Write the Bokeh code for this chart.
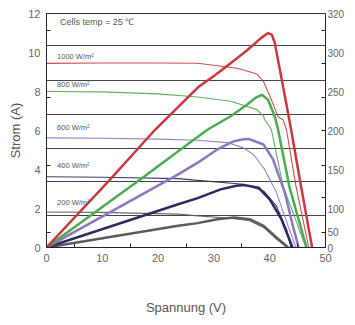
from bokeh.plotting import figure
from bokeh.models import Range1d, LinearAxis, FixedTicker, Grid
from bokeh.core.properties import value
from bokeh.embed import file_html
from bokeh.resources import INLINE

# ---------------- data ----------------
# I-V curves (current, A)
v_iv_1000 = [0, 10, 20, 27.1, 34.2, 37.7, 38.9, 40.0, 41.5, 42.4, 43.0, 44.7, 47.0]
i_iv_1000 = [9.44, 9.46, 9.46, 9.45, 9.19, 8.9, 8.5, 7.8, 6.7, 6.55, 6.05, 3.16, 0]

v_iv_800 = [0, 10, 20, 27.1, 33.0, 37.7, 38.9, 39.1, 40.3, 42.4, 46.5]
i_iv_800 = [8.0, 7.98, 7.88, 7.72, 7.5, 7.07, 6.73, 6.55, 6.05, 3.15, 0]

v_iv_600 = [0, 10, 20, 27.1, 32.4, 35.3, 37.1, 39.1, 41.2, 43.5, 44.7]
i_iv_600 = [5.62, 5.6, 5.56, 5.5, 5.38, 5.11, 4.77, 4.0, 2.83, 0.94, 0]

v_iv_400 = [0, 10, 23.6, 27.1, 35.3, 38.9, 41.2, 43.0, 43.8]
i_iv_400 = [3.63, 3.6, 3.53, 3.44, 3.24, 2.9, 2.13, 0.94, 0]

v_iv_200 = [0, 10, 23.6, 27.1, 33.0, 36.4, 38.9, 41.2, 43.1]
i_iv_200 = [1.82, 1.8, 1.71, 1.62, 1.5, 1.37, 1.03, 0.43, 0]

# P-V curves (power, on the plotted scale of the chart)
v_pv_1000 = [0, 11.3, 19.5, 27.1, 30.0, 33.0, 35.9, 38.5, 39.7, 40.4, 40.9, 42.4, 43.8, 45.6, 47.6]
p_pv_1000 = [0, 3.45, 6.05, 8.2, 8.8, 9.45, 10.1, 10.75, 11.0, 10.9, 10.5, 8.25, 6.1, 3.16, 0]

v_pv_800 = [0, 17.1, 23.6, 28.9, 33.0, 35.9, 37.6, 38.6, 39.7, 40.9, 41.5, 43.5, 46.6]
p_pv_800 = [0, 3.55, 4.94, 6.05, 6.73, 7.32, 7.7, 7.83, 7.58, 6.73, 6.05, 3.15, 0]

v_pv_600 = [0, 23.6, 27.1, 30.6, 33.6, 35.3, 36.2, 38.9, 40.6, 42.7, 44.3, 45.2]
p_pv_600 = [0, 3.75, 4.35, 5.03, 5.45, 5.55, 5.57, 5.28, 4.52, 2.83, 0.94, 0]

v_pv_400 = [0, 23.6, 27.1, 31.2, 34.0, 35.3, 38.0, 40.0, 42.1, 44.1]
p_pv_400 = [0, 2.22, 2.53, 2.98, 3.17, 3.2, 3.07, 2.47, 1.45, 0]

v_pv_200 = [0, 23.6, 27.1, 30.6, 33.6, 36.4, 38.9, 41.2, 43.3]
p_pv_200 = [0, 1.11, 1.25, 1.45, 1.54, 1.45, 1.11, 0.52, 0]

irradiance_labels = ["1000 W/m²", "800 W/m²", "600 W/m²", "400 W/m²", "200 W/m²"]
label_v = [1.9, 1.9, 1.9, 1.9, 1.9]
label_i = [9.77, 8.35, 6.15, 4.2, 2.3]

x_ticks = [0, 10, 20, 30, 40, 50]
left_ticks = [0, 2, 4, 6, 8, 10, 12]
right_tick_labels = ["0", "50", "100", "150", "200", "250", "300", "320"]
right_tick_pos = [0, 0.8, 2, 4, 6, 8, 10, 12]
power_gridlines = [1.63, 3.37, 5.10, 6.84, 8.57, 10.36]

colors = ["#c8393f", "#4aab50", "#8b76c2", "#2a2b5e", "#5b5b5b"]

# ---------------- figure ----------------
p = figure(width=347, height=317, output_backend="svg", toolbar_location=None,
           x_range=Range1d(0, 50), y_range=Range1d(0, 12),
           min_border_left=46, min_border_right=17, min_border_top=13, min_border_bottom=68,
           background_fill_color="white", border_fill_color="white")
p.outline_line_color = "#333333"
p.outline_line_width = 1
p.grid.visible = False

tick_color = "#666666"
font = "Liberation Sans"

p.xaxis.ticker = FixedTicker(ticks=x_ticks, minor_ticks=[5, 15, 25, 35, 45])
p.yaxis.ticker = FixedTicker(ticks=left_ticks, minor_ticks=[0.77, 4.23, 7.70, 11.12])
for ax in (p.xaxis[0], p.yaxis[0]):
    ax.axis_line_color = "#222222"
    ax.major_tick_in = 0
    ax.major_tick_out = 0
    ax.minor_tick_in = 4
    ax.minor_tick_out = 0
    ax.minor_tick_line_color = "#222222"
    ax.major_label_text_font = font
    ax.major_label_text_font_size = "11px"
    ax.major_label_text_color = tick_color
    ax.axis_label_text_font = font
    ax.axis_label_text_font_size = "13px"
    ax.axis_label_text_font_style = "normal"
    ax.axis_label_text_color = "#555555"
    ax.major_label_standoff = 6

p.xaxis.axis_label = "Spannung (V)"
p.xaxis.axis_label_standoff = 35
p.yaxis.axis_label = "Strom (A)"
p.yaxis.axis_label_standoff = 2

right = LinearAxis(ticker=FixedTicker(ticks=right_tick_pos,
                                      minor_ticks=[0.77, 2.55, 4.23, 6.02, 7.70, 9.44, 11.12]))
right.major_label_overrides = {pos: lab for pos, lab in zip(right_tick_pos, right_tick_labels)}
right.axis_line_color = "#222222"
right.major_tick_in = 0
right.major_tick_out = 0
right.minor_tick_in = 4
right.minor_tick_out = 0
right.minor_tick_line_color = "#222222"
right.major_label_text_font = font
right.major_label_text_font_size = "10px"
right.major_label_text_color = tick_color
right.major_label_standoff = 2
p.add_layout(right, "right")

p.add_layout(Grid(dimension=1, ticker=FixedTicker(ticks=power_gridlines),
                  grid_line_color="#444444", grid_line_width=1))

iv = [(v_iv_1000, i_iv_1000), (v_iv_800, i_iv_800), (v_iv_600, i_iv_600),
      (v_iv_400, i_iv_400), (v_iv_200, i_iv_200)]
pv = [(v_pv_1000, p_pv_1000), (v_pv_800, p_pv_800), (v_pv_600, p_pv_600),
      (v_pv_400, p_pv_400), (v_pv_200, p_pv_200)]

for (xv, yv), c in zip(reversed(iv), reversed(colors)):
    p.line(xv, yv, line_color=c, line_width=1.1, line_alpha=0.9, line_join="round")
for (xv, yv), c in zip(reversed(pv), reversed(colors)):
    p.line(xv, yv, line_color=c, line_width=2.5, line_join="round", line_cap="round")

p.text(x=label_v, y=label_i, text=irradiance_labels, text_font=value(font),
       text_font_size="7.5px", text_color="#555555", text_baseline="middle", text_align="left")
p.text(x=[2.4], y=[11.55], text=["Cells temp = 25 \u2103"], text_font=value(font),
       text_font_size="9px", text_color="#555555", text_baseline="middle", text_align="left")

open("out.html", "w").write(file_html(p, INLINE))
